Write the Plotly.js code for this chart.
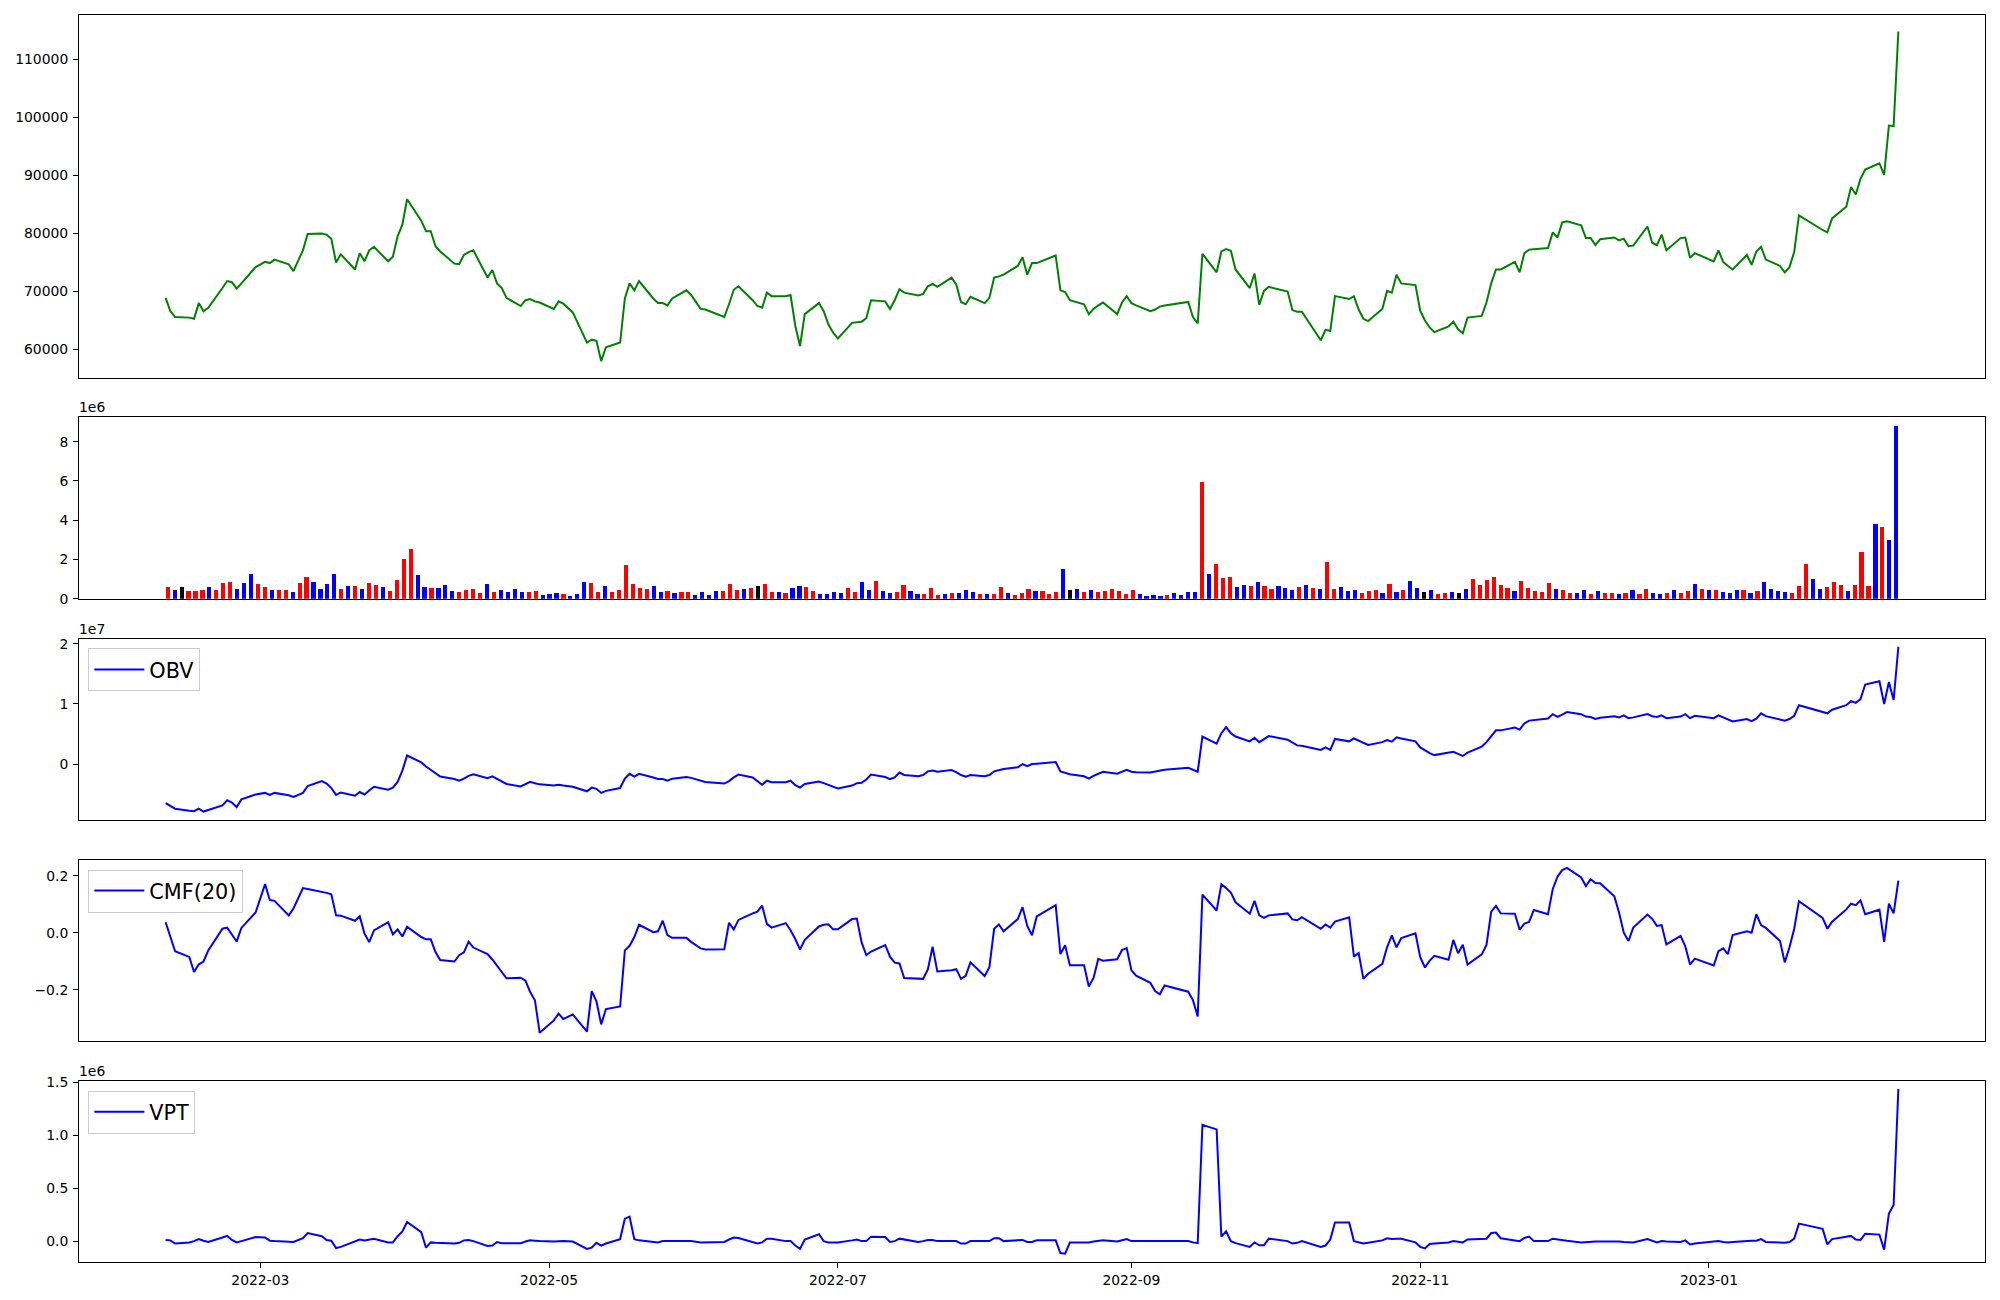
<!DOCTYPE html>
<html>
<head>
<meta charset="utf-8">
<script src="https://cdn.plot.ly/plotly-3.0.1.min.js"></script>
<style>html,body{margin:0;padding:0;background:#fff}#chart{width:2000px;height:1300px}</style>
</head>
<body>
<div id="chart"></div>
<script>
// ---------- calendar (KRX trading days) ----------
const START_DATE = '2022-02-09';
const END_DATE = '2023-02-10';
const HOLIDAYS = ['2022-03-01','2022-03-09','2022-05-05','2022-06-01','2022-06-06','2022-08-15',
  '2022-09-09','2022-09-12','2022-10-03','2022-10-10','2022-12-30','2023-01-23','2023-01-24'];

// ---------- close price ----------
const CLOSE = [
 68900,66600,65600,65500,65300,68000,66600,67200,70600,71800,71600,70500,71400,74200,
 75100,74900,75500,74700,73500,77100,79900,80000,79800,79100,75000,76400,73800,76600,75200,77100,77700,75200,76000,79500,81500,
 85900,82200,80400,80400,77800,76900,74800,74700,76300,76800,77100,72400,73700,71400,70600,68900,67500,68500,68700,68300,68100,
 67000,68300,67900,66400,61200,61700,61500,58000,60400,61200,68800,71400,70200,71800,68800,68000,68000,67600,68800,70200,69400,
 67000,66900,65600,67800,70300,70900,68500,67500,67200,69800,69200,69200,69400,64100,60600,66100,68000,66600,64300,62900,
 61900,64600,64700,64800,65400,68500,68300,67000,68500,70400,69800,69300,69600,70900,71300,70800,72400,71200,68200,67800,69100,
 68000,68900,72400,72600,72900,74400,75900,72900,74900,74900,76200,70200,69900,68500,67800,66100,67000,67600,68100,66100,68100,69200,
 68000,67600,66600,66900,67400,67600,68200,65600,64500,76500,73300,76900,77300,77000,73800,70600,73100,67700,70100,70800,
 70000,66800,66500,66500,61600,63400,63200,69200,68700,69200,66900,65300,64900,67000,70100,69800,72900,71400,71100,
 66700,65000,63800,63000,64000,64800,63500,62800,65500,65800,68100,71400,73800,73800,75100,73300,76600,77200,77300,77500,80200,79300,
 81900,82100,81400,79200,79200,78000,79000,79300,78800,79100,77800,77900,81200,78400,78000,79800,77100,79200,79300,75800,76600,
 75200,77100,75100,74400,73800,76300,74600,76900,77700,75500,74400,73300,74200,76800,83100,80600,80200,82600,84600,88000,
 86700,89400,91000,92100,90100,98600,98500,114800
];

// ---------- volume (shares) ----------
const VOLUME = [
 580000,420000,580000,370000,370000,420000,580000,420000,780000,830000,470000,780000,1240000,730000,580000,420000,420000,420000,320000,780000,1130000,830000,470000,730000,1240000,520000,630000,630000,470000,780000,680000,580000,370000,930000,2000000,2550000,
 1220000,610000,560000,560000,710000,410000,360000,460000,510000,300000,760000,360000,460000,360000,510000,360000,360000,410000,200000,250000,300000,250000,150000,250000,860000,810000,360000,660000,360000,460000,1730000,760000,560000,510000,660000,360000,410000,300000,360000,360000,200000,360000,200000,410000,410000,760000,460000,510000,560000,660000,
 760000,360000,360000,300000,560000,660000,610000,410000,250000,250000,360000,300000,560000,360000,860000,460000,910000,410000,300000,360000,710000,410000,250000,250000,560000,200000,250000,300000,300000,460000,360000,250000,250000,250000,610000,300000,200000,300000,510000,410000,410000,250000,360000,1520000,460000,510000,360000,460000,360000,410000,510000,
 410000,250000,460000,250000,150000,200000,150000,200000,300000,200000,360000,360000,5960000,1270000,1780000,1070000,1120000,610000,710000,660000,860000,660000,510000,660000,560000,460000,610000,710000,560000,510000,1880000,510000,610000,410000,460000,300000,410000,460000,300000,760000,360000,460000,910000,560000,360000,460000,250000,300000,360000,300000,510000,
 1020000,710000,960000,1120000,710000,560000,410000,910000,560000,410000,360000,810000,510000,460000,300000,300000,460000,250000,410000,300000,300000,250000,300000,460000,250000,510000,300000,250000,300000,460000,300000,410000,760000,510000,460000,460000,360000,300000,460000,460000,300000,410000,860000,510000,410000,360000,300000,660000,1780000,1020000,510000,610000,860000,710000,410000,710000,2390000,660000,3810000,3650000,3000000,8800000
];
// candle direction per day: r = up, b = down, k = unchanged
const DIRECTION =
 'rbkrrrbrrrbbbrrbrrbrrbbbbrbrbrrbrrrr' +
 'bbrbbbrrrrbrbbbbrrbbbrbbbrrbrrrrrrbbrbrrbbbbrrrbrk' +
 'rrbrbbrrbbbbrrbbrbbrrbbrrrbrbbbrbrrbrrrbrrrbkbrbrrr' +
 'rrrbbbbrbbbbrbrrrbbrbrrbbbrbrbrrbbbrrrbrbrbbkbrrbkb' +
 'rrrrrrbrrrrrbrrbbrbrrbrbrrbbrbrrbrbrbbbrbrbbbbrrrbbrrrbrrrbrbb';

// ---------- On-Balance Volume ----------
const OBV = [
 -6.49e6,-6.96e6,-7.43e6,-7.77e6,-7.84e6,-7.43e6,-7.91e6,-7.64e6,-6.89e6,-6.01e6,-6.42e6,-7.16e6,-5.88e6,-5.07e6,
 -4.80e6,-5.14e6,-4.80e6,-5.20e6,-5.47e6,-4.80e6,-3.65e6,-2.84e6,-3.24e6,-3.99e6,-5.14e6,-4.73e6,-5.27e6,-4.66e6,-5.07e6,-4.39e6,-3.78e6,-4.26e6,-3.92e6,-2.97e6,-1.08e6,
 1.42e6,0.27e6,-0.41e6,-0.95e6,-1.62e6,-2.09e6,-2.50e6,-2.77e6,-2.43e6,-1.96e6,-1.69e6,-2.36e6,-2.03e6,-2.43e6,-2.77e6,-3.31e6,-3.72e6,-3.31e6,-2.97e6,-3.18e6,-3.38e6,
 -3.58e6,-3.45e6,-3.58e6,-3.78e6,-4.53e6,-3.92e6,-4.12e6,-4.80e6,-4.46e6,-3.99e6,-2.43e6,-1.62e6,-2.09e6,-1.62e6,-2.23e6,-2.50e6,-2.50e6,-2.77e6,-2.43e6,-2.16e6,-2.30e6,
 -2.77e6,-2.97e6,-3.24e6,-2.84e6,-2.23e6,-1.76e6,-2.23e6,-2.84e6,-3.45e6,-2.77e6,-3.04e6,-3.04e6,-2.77e6,-3.51e6,-3.92e6,-3.31e6,-2.91e6,-3.18e6,-3.45e6,-3.78e6,
 -4.05e6,-3.58e6,-3.18e6,-3.11e6,-2.57e6,-1.76e6,-2.16e6,-2.50e6,-2.23e6,-1.42e6,-1.82e6,-2.03e6,-1.82e6,-1.22e6,-1.08e6,-1.28e6,-1.01e6,-1.35e6,-1.82e6,-2.09e6,-1.82e6,
 -2.03e6,-1.82e6,-1.22e6,-0.95e6,-0.81e6,-0.54e6,0,-0.34e6,0,0.07e6,0.34e6,-1.22e6,-1.42e6,-1.69e6,-2.03e6,-2.43e6,-1.96e6,-1.62e6,-1.28e6,-1.62e6,-1.28e6,-0.95e6,
 -1.28e6,-1.35e6,-1.42e6,-1.28e6,-1.08e6,-0.95e6,-0.61e6,-1.01e6,-1.28e6,4.59e6,3.38e6,5.14e6,6.15e6,5.14e6,4.59e6,3.78e6,4.39e6,3.65e6,4.12e6,4.66e6,
 4.05e6,3.58e6,3.11e6,3.04e6,2.35e6,2.77e6,2.36e6,4.19e6,3.78e6,4.26e6,3.92e6,3.51e6,3.18e6,3.65e6,3.99e6,3.72e6,4.46e6,4.26e6,3.78e6,
 2.77e6,2.23e6,1.82e6,1.49e6,1.82e6,2.03e6,1.69e6,1.35e6,1.89e6,2.91e6,3.65e6,4.59e6,5.61e6,5.61e6,6.08e6,5.74e6,6.76e6,7.23e6,7.30e6,7.57e6,8.31e6,7.84e6,
 8.24e6,8.65e6,8.31e6,7.91e6,7.84e6,7.50e6,7.70e6,7.97e6,7.77e6,8.11e6,7.64e6,7.77e6,8.31e6,7.97e6,7.84e6,8.11e6,7.64e6,7.91e6,8.31e6,7.64e6,8.04e6,
 7.64e6,8.11e6,7.77e6,7.36e6,7.09e6,7.50e6,7.16e6,7.57e6,8.45e6,7.97e6,7.50e6,7.23e6,7.50e6,8.04e6,9.80e6,8.78e6,8.45e6,9.05e6,9.80e6,10.47e6,
 10.20e6,10.81e6,13.24e6,13.78e6,10.00e6,13.65e6,10.68e6,19.53e6
];

// ---------- Chaikin Money Flow (20) ----------
const CMF = [
 0.037,-0.015,-0.065,-0.085,-0.138,-0.111,-0.101,-0.062,0.014,0.018,-0.006,-0.031,0.017,0.071,
 0.171,0.115,0.112,0.061,0.085,0.157,0.154,0.145,0.140,0.135,0.061,0.060,0.042,0.058,-0.003,-0.033,0.008,0.037,-0.006,0.012,-0.013,
 0.021,-0.015,-0.023,-0.023,-0.068,-0.096,-0.101,-0.079,-0.069,-0.031,-0.052,-0.075,-0.094,-0.115,-0.138,-0.160,-0.158,-0.168,-0.208,-0.237,-0.351,
 -0.308,-0.284,-0.303,-0.287,-0.347,-0.205,-0.241,-0.322,-0.268,-0.259,-0.062,-0.046,-0.015,0.028,0.002,0.005,0.042,-0.008,-0.018,-0.018,-0.032,
 -0.055,-0.059,-0.058,0.035,0.011,0.045,0.068,0.074,0.095,0.031,0.018,0.034,0.009,-0.022,-0.059,-0.025,0.022,0.028,0.030,0.012,
 0.012,0.048,0.050,-0.033,-0.079,-0.066,-0.043,-0.084,-0.105,-0.108,-0.159,-0.161,-0.162,-0.129,-0.049,-0.136,-0.132,-0.128,-0.162,-0.151,-0.104,
 -0.152,-0.121,0.014,0.029,0.005,0.048,0.090,0.024,-0.009,0.057,0.097,-0.075,-0.044,-0.114,-0.114,-0.189,-0.159,-0.092,-0.098,-0.093,-0.061,-0.054,
 -0.132,-0.151,-0.176,-0.205,-0.216,-0.185,-0.207,-0.237,-0.294,0.134,0.078,0.170,0.157,0.141,0.107,0.067,0.112,0.061,0.052,0.061,
 0.068,0.047,0.044,0.055,0.014,0.029,0.018,0.039,0.054,-0.084,-0.071,-0.162,-0.144,-0.109,-0.051,-0.009,-0.051,-0.019,-0.002,
 -0.086,-0.122,-0.098,-0.081,-0.095,-0.025,-0.072,-0.042,-0.112,-0.076,-0.043,0.074,0.094,0.068,0.067,0.011,0.032,0.038,0.080,0.065,0.154,0.197,
 0.220,0.228,0.194,0.164,0.188,0.175,0.174,0.128,0.071,0.0,-0.029,0.018,0.064,0.049,0.024,0.027,-0.041,-0.011,-0.048,-0.112,-0.091,
 -0.115,-0.065,-0.055,-0.075,-0.008,0.005,0.0,0.065,0.027,0.017,-0.029,-0.104,-0.051,0.014,0.111,0.052,0.014,0.039,0.082,0.102,
 0.097,0.114,0.065,0.081,-0.032,0.102,0.068,0.183
];

// ---------- Volume Price Trend ----------
const VPT = [
 14000,10000,-20000,-9000,3000,22000,7000,-5000,37000,52000,14000,-9000,3000,41000,
 37000,7000,3000,-1000,-5000,30000,79000,49000,14000,7000,-62000,-51000,-1000,18000,10000,18000,26000,-9000,-9000,49000,95000,
 183000,87000,-59000,-9000,-13000,-16000,-20000,-13000,10000,14000,3000,-43000,-39000,-5000,-16000,-16000,-16000,-1000,10000,7000,3000,
 -1000,3000,3000,-1000,-70000,-59000,-13000,-39000,-20000,22000,214000,233000,22000,10000,-5000,-9000,3000,3000,7000,10000,3000,
 -9000,-9000,-5000,18000,37000,33000,-9000,-20000,-9000,26000,26000,3000,3000,-39000,-70000,18000,68000,3000,-9000,-9000,
 -9000,10000,18000,3000,3000,45000,41000,-5000,3000,26000,18000,-5000,3000,14000,14000,3000,3000,3000,-20000,-20000,3000,
 3000,3000,30000,30000,3000,7000,14000,-5000,-5000,10000,10000,-109000,-116000,-9000,-9000,-9000,-1000,7000,10000,-1000,10000,22000,
 3000,3000,3000,3000,3000,3000,3000,-9000,-16000,1098000,1054000,45000,95000,3000,-16000,-51000,-9000,-36000,-36000,26000,
 3000,-20000,-13000,3000,-53000,-39000,18000,179000,179000,3000,-9000,-20000,-13000,10000,30000,22000,26000,26000,-9000,
 -51000,-66000,-24000,-20000,-9000,3000,-5000,-9000,18000,22000,26000,79000,83000,30000,7000,3000,33000,45000,3000,3000,26000,18000,
 14000,7000,-9000,-5000,-5000,-1000,-1000,3000,-1000,-5000,-5000,-9000,22000,3000,-9000,3000,-1000,-5000,10000,-28000,-20000,
 -1000,3000,-5000,-9000,-5000,7000,7000,7000,22000,-5000,-16000,-13000,-5000,26000,168000,118000,-28000,22000,45000,52000,
 18000,14000,72000,64000,-78000,263000,343000,1435000
];

// ---------- tick labels ----------
const VOL_TICKS = [0, 2e6, 4e6, 6e6, 8e6];
const VOL_TICK_TEXT = ['0','2','4','6','8'];
const OBV_TICKS = [0, 1e7, 2e7];
const OBV_TICK_TEXT = ['0','1','2'];
const CMF_TICKS = [-0.2, 0, 0.2];
const CMF_TICK_TEXT = ['\u22120.2','0.0','0.2'];
const VPT_TICKS = [0, 5e5, 1e6, 1.5e6];
const VPT_TICK_TEXT = ['0.0','0.5','1.0','1.5'];

// ---------- build ----------
function tradingDays(start, end, holidays) {
  const hs = new Set(holidays);
  const out = [];
  let t = Date.parse(start + 'T00:00:00Z');
  const tEnd = Date.parse(end + 'T00:00:00Z');
  while (t <= tEnd) {
    const d = new Date(t);
    const wd = d.getUTCDay();
    const s = d.toISOString().slice(0, 10);
    if (wd !== 0 && wd !== 6 && !hs.has(s)) out.push(s);
    t += 86400000;
  }
  return out;
}
const DATES = tradingDays(START_DATE, END_DATE, HOLIDAYS);
const N = VOLUME.length;
const IDX = VOLUME.map((_, i) => i);
const COLOR_MAP = {r: 'red', b: 'blue', k: 'black'};
const BAR_COLORS = DIRECTION.split('').map(c => COLOR_MAP[c]);

function padRange(arr, frac) {
  const mn = Math.min(...arr), mx = Math.max(...arr);
  const p = (mx - mn) * frac;
  return [mn - p, mx + p];
}
const t0 = Date.parse(DATES[0] + 'T00:00:00Z');
const t1 = Date.parse(DATES[DATES.length - 1] + 'T00:00:00Z');
const tp = (t1 - t0) * 0.05;
const toStr = ms => new Date(ms).toISOString().slice(0, 19).replace('T', ' ');
const DATE_RANGE = [toStr(t0 - tp), toStr(t1 + tp)];
const BW = 0.6;
const bspan = (N - 1) + BW;
const BAR_RANGE = [-BW / 2 - 0.05 * bspan, N - 1 + BW / 2 + 0.05 * bspan];

const FONT = 'DejaVu Sans, Arial, sans-serif';
const tickFont = {family: FONT, size: 13.9, color: 'black'};
const frame = {showline: true, mirror: true, linecolor: 'black', linewidth: 1,
  showgrid: false, zeroline: false, tickcolor: 'black', tickwidth: 1, ticklen: 5, tickfont: tickFont};
const noTickX = Object.assign({}, frame, {ticks: '', showticklabels: false});
const yax = Object.assign({}, frame, {ticks: 'outside', ticklabelstandoff: 2});

const D1 = [0.7092, 1.0], D2 = [0.5319, 0.6773], D3 = [0.3546, 0.5000], D4 = [0.1773, 0.3227], D5 = [0.0, 0.1454];

const traces = [
  {type: 'scatter', mode: 'lines', x: DATES, y: CLOSE, xaxis: 'x', yaxis: 'y',
   line: {color: '#008000', width: 2}, showlegend: false, name: 'Close'},
  {type: 'bar', x: IDX, y: VOLUME, xaxis: 'x2', yaxis: 'y2', width: BW,
   marker: {color: BAR_COLORS, line: {width: 0}}, showlegend: false, name: 'Volume'},
  {type: 'scatter', mode: 'lines', x: DATES, y: OBV, xaxis: 'x3', yaxis: 'y3',
   line: {color: '#0000ff', width: 2}, name: 'OBV', legend: 'legend'},
  {type: 'scatter', mode: 'lines', x: DATES, y: CMF, xaxis: 'x4', yaxis: 'y4',
   line: {color: '#0000ff', width: 2}, name: 'CMF(20)', legend: 'legend2'},
  {type: 'scatter', mode: 'lines', x: DATES, y: VPT, xaxis: 'x5', yaxis: 'y5',
   line: {color: '#0000ff', width: 2}, name: 'VPT', legend: 'legend3'}
];

const legendBase = {xanchor: 'left', yanchor: 'top', bgcolor: 'white', bordercolor: '#cccccc',
  borderwidth: 1, itemwidth: 50, font: {family: FONT, size: 20.8, color: 'black'}, x: 0.0049};

function offsetNote(text, top) {
  return {text: text, xref: 'paper', yref: 'paper', x: 0, y: top, xanchor: 'left', yanchor: 'bottom',
    showarrow: false, xshift: -2, yshift: 0, font: tickFont};
}

const layout = {
  width: 2000, height: 1300,
  margin: {l: 79, r: 15, t: 15, b: 38},
  paper_bgcolor: 'white', plot_bgcolor: 'white',
  font: {family: FONT, color: 'black'},
  bargap: 0,
  xaxis: Object.assign({}, noTickX, {type: 'date', range: DATE_RANGE, anchor: 'y'}),
  xaxis2: Object.assign({}, noTickX, {type: 'linear', range: BAR_RANGE, anchor: 'y2'}),
  xaxis3: Object.assign({}, noTickX, {type: 'date', range: DATE_RANGE, anchor: 'y3'}),
  xaxis4: Object.assign({}, noTickX, {type: 'date', range: DATE_RANGE, anchor: 'y4'}),
  xaxis5: Object.assign({}, frame, {type: 'date', range: DATE_RANGE, anchor: 'y5', ticks: 'outside',
    tickformat: '%Y-%m', dtick: 'M2', tick0: '2022-01-01'}),
  yaxis: Object.assign({}, yax, {domain: D1, anchor: 'x', range: padRange(CLOSE, 0.05), dtick: 10000, tickformat: 'd'}),
  yaxis2: Object.assign({}, yax, {domain: D2, anchor: 'x2', range: [0, Math.max(...VOLUME) * 1.05],
    tickmode: 'array', tickvals: VOL_TICKS, ticktext: VOL_TICK_TEXT}),
  yaxis3: Object.assign({}, yax, {domain: D3, anchor: 'x3', range: padRange(OBV, 0.05),
    tickmode: 'array', tickvals: OBV_TICKS, ticktext: OBV_TICK_TEXT}),
  yaxis4: Object.assign({}, yax, {domain: D4, anchor: 'x4', range: padRange(CMF, 0.05),
    tickmode: 'array', tickvals: CMF_TICKS, ticktext: CMF_TICK_TEXT}),
  yaxis5: Object.assign({}, yax, {domain: D5, anchor: 'x5', range: padRange(VPT, 0.05),
    tickmode: 'array', tickvals: VPT_TICKS, ticktext: VPT_TICK_TEXT}),
  legend: Object.assign({}, legendBase, {y: 0.4920}),
  legend2: Object.assign({}, legendBase, {y: 0.3147}),
  legend3: Object.assign({}, legendBase, {y: 0.1374}),
  annotations: [offsetNote('1e6', D2[1]), offsetNote('1e7', D3[1]), offsetNote('1e6', D5[1])]
};

Plotly.newPlot('chart', traces, layout, {displayModeBar: false, staticPlot: true});
</script>
</body>
</html>
